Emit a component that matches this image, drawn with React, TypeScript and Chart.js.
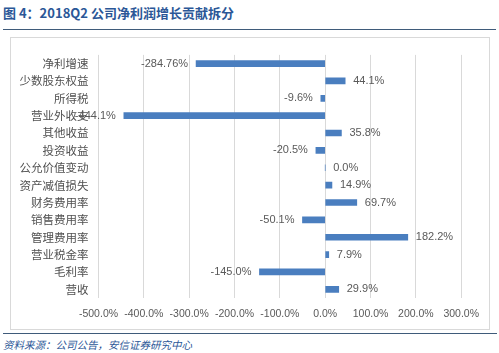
import React, { useEffect, useRef } from "react";
import { Chart, registerables } from "chart.js";

Chart.register(...registerables);

const categories = [
  "净利增速",
  "少数股东权益",
  "所得税",
  "营业外收支",
  "其他收益",
  "投资收益",
  "公允价值变动",
  "资产减值损失",
  "财务费用率",
  "销售费用率",
  "管理费用率",
  "营业税金率",
  "毛利率",
  "营收",
];

const values = [-284.76, 44.1, -9.6, -444.1, 35.8, -20.5, 0.0, 14.9, 69.7, -50.1, 182.2, 7.9, -145.0, 29.9];

const valueLabels = [
  "-284.76%",
  "44.1%",
  "-9.6%",
  "-444.1%",
  "35.8%",
  "-20.5%",
  "0.0%",
  "14.9%",
  "69.7%",
  "-50.1%",
  "182.2%",
  "7.9%",
  "-145.0%",
  "29.9%",
];

const axisMin = -500;
const axisMax = 300;
const axisStep = 100;

const titleText = "图 4：2018Q2 公司净利润增长贡献拆分";
const sourceText = "资料来源：公司公告，安信证券研究中心";

const labelPlugin = {
  id: "barValueLabels",
  afterDatasetsDraw(chart: any) {
    const ctx = chart.ctx;
    const meta = chart.getDatasetMeta(0);
    ctx.save();
    ctx.font = "11px 'Liberation Sans', Arial, sans-serif";
    ctx.fillStyle = "#595959";
    ctx.textBaseline = "middle";
    meta.data.forEach((bar: any, i: number) => {
      const v = values[i];
      const txt = valueLabels[i];
      if (v >= 0) {
        ctx.textAlign = "left";
        ctx.fillText(txt, bar.x + 8, bar.y);
      } else {
        ctx.textAlign = "right";
        ctx.fillText(txt, bar.x - 8, bar.y);
      }
    });
    ctx.restore();
  },
};

export default function App() {
  const canvasRef = useRef<HTMLCanvasElement | null>(null);

  useEffect(() => {
    if (!canvasRef.current) return;
    const chart = new Chart(canvasRef.current, {
      type: "bar",
      data: {
        labels: categories,
        datasets: [
          {
            data: values,
            backgroundColor: "#4a7ebf",
            borderWidth: 0,
            barThickness: 6,
          },
        ],
      },
      options: {
        indexAxis: "y",
        animation: false,
        responsive: false,
        maintainAspectRatio: false,
        layout: { padding: { left: 0, right: 26, top: 14, bottom: 0 } },
        plugins: {
          legend: { display: false },
          tooltip: { enabled: false },
          title: { display: false },
        },
        scales: {
          x: {
            type: "linear",
            min: axisMin,
            max: axisMax,
            border: { display: false },
            grid: { color: "#d9d9d9", drawTicks: false, lineWidth: 1 },
            ticks: {
              stepSize: axisStep,
              padding: 10,
              color: "#595959",
              font: { family: "'Liberation Sans', Arial, sans-serif", size: 10.5 },
              callback: (v: any) => Number(v).toFixed(1) + "%",
            },
            afterFit: (scale: any) => {
              scale.height = 31;
            },
          },
          y: {
            type: "category",
            offset: true,
            border: { display: false },
            grid: { display: false, drawTicks: false },
            ticks: {
              autoSkip: false,
              padding: 10,
              color: "#505050",
              font: { family: "'Noto Sans CJK SC', sans-serif", size: 11.5 },
            },
            afterFit: (scale: any) => {
              scale.width = 87.5;
            },
          },
        },
      },
      plugins: [labelPlugin],
    });
    return () => chart.destroy();
  }, []);

  return (
    <div
      style={{
        position: "absolute",
        left: 0,
        top: 0,
        width: 499,
        height: 353,
        background: "#ffffff",
        overflow: "hidden",
      }}
    >
      <div
        style={{
          position: "absolute",
          left: 3,
          top: 4,
          fontFamily: "'Noto Sans CJK SC', sans-serif",
          fontWeight: 700,
          fontSize: 13,
          lineHeight: "18px",
          color: "#2b5797",
          whiteSpace: "nowrap",
        }}
      >
        {titleText}
      </div>
      <div
        style={{
          position: "absolute",
          left: 3,
          top: 29,
          width: 493,
          height: 0,
          borderTop: "1.5px solid #3f5b7a",
        }}
      />
      <div
        style={{
          position: "absolute",
          left: 10,
          top: 37,
          width: 478,
          height: 291,
          border: "1px solid #d9d9d9",
        }}
      >
        <canvas ref={canvasRef} width={478} height={291} style={{ display: "block", width: 478, height: 291 }} />
      </div>
      <div
        style={{
          position: "absolute",
          left: 3,
          top: 333,
          width: 494,
          height: 0,
          borderTop: "1.5px solid #3f5b7a",
        }}
      />
      <div
        style={{
          position: "absolute",
          left: 3,
          top: 338,
          fontFamily: "'Noto Sans CJK SC', sans-serif",
          fontStyle: "italic",
          fontSize: 10.5,
          lineHeight: "14px",
          color: "#2b5797",
          whiteSpace: "nowrap",
        }}
      >
        {sourceText}
      </div>
    </div>
  );
}
